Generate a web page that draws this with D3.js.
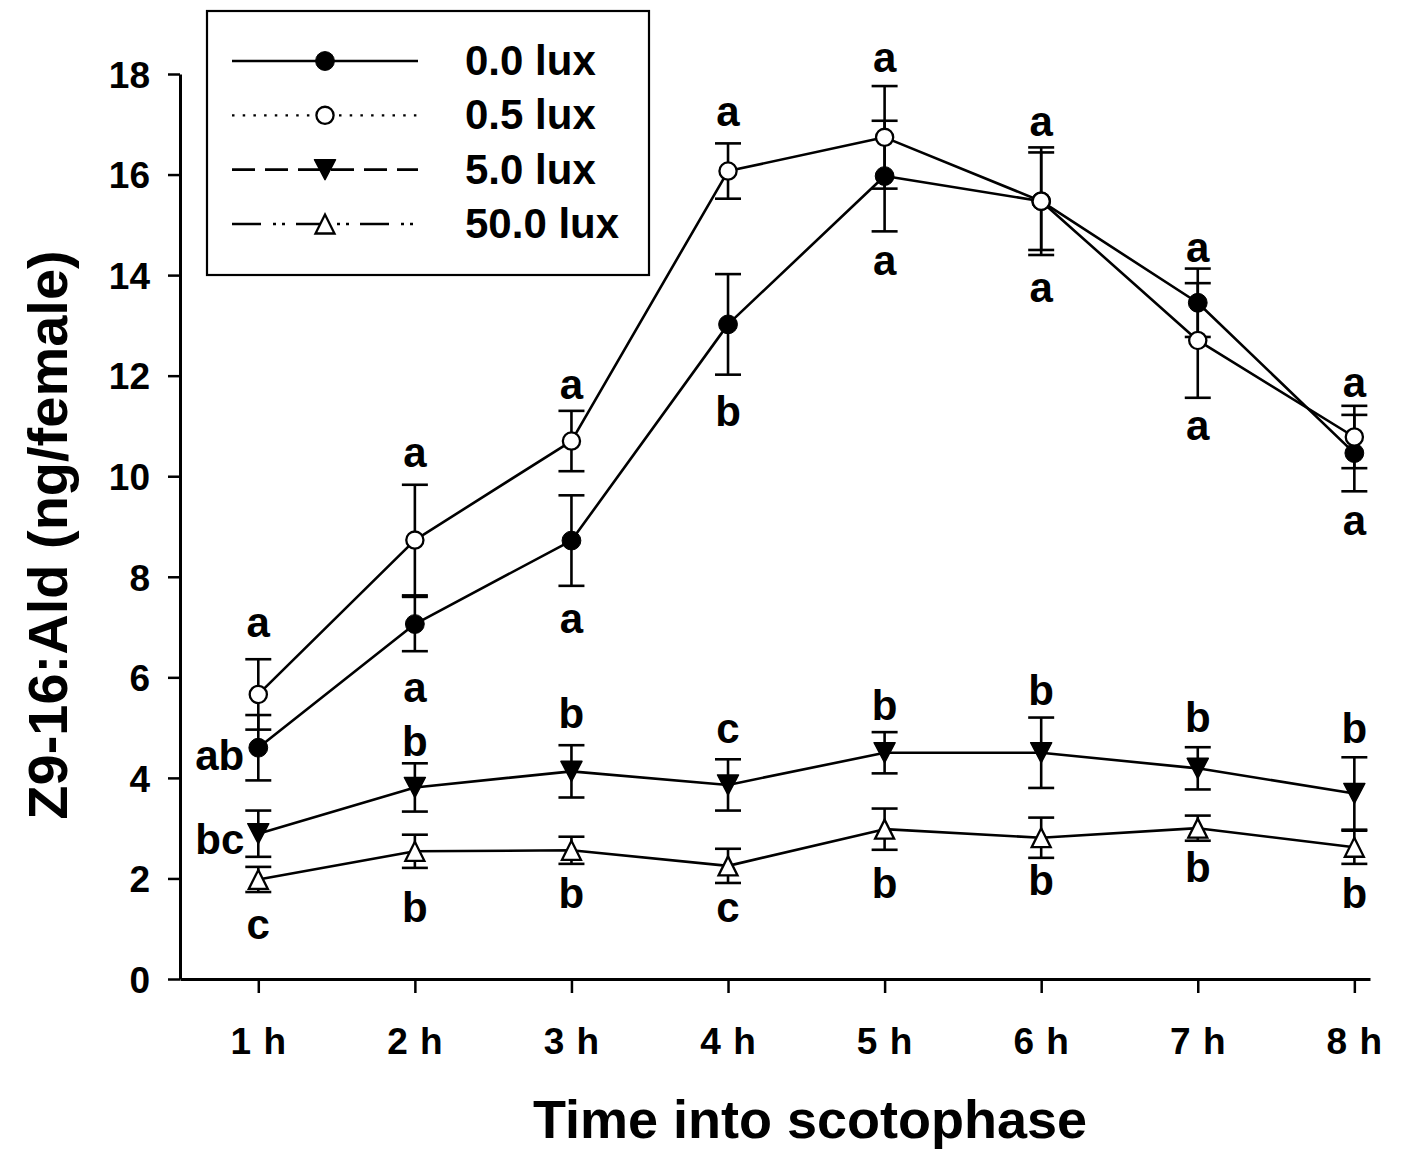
<!DOCTYPE html>
<html>
<head>
<meta charset="utf-8">
<script src="https://cdn.jsdelivr.net/npm/d3@7"></script>
<style>
  html, body { margin: 0; padding: 0; background: #fff; }
  svg text { font-family: Arial, "Liberation Sans", sans-serif; font-weight: bold; fill: #000; }
</style>
</head>
<body>
<div id="chart"></div>
<script>
// global constants
const WIDTH = 1406;
const HEIGHT = 1152;
const LINE_W = 2.6;
const AXIS_W = 3;
const CAP_HALF = 13;

// data
const hours = [1, 2, 3, 4, 5, 6, 7, 8];
const hourLabels = ["1 h", "2 h", "3 h", "4 h", "5 h", "6 h", "7 h", "8 h"];
const yTicks = [0, 2, 4, 6, 8, 10, 12, 14, 16, 18];

const lux00 = [4.6, 7.06, 8.72, 13.02, 15.97, 15.47, 13.45, 10.46];
const lux00Err = [0.65, 0.54, 0.9, 1.0, 1.1, 0.97, 0.68, 0.76];
const lux05 = [5.66, 8.73, 10.7, 16.07, 16.74, 15.47, 12.7, 10.78];
const lux05Err = [0.7, 1.1, 0.6, 0.55, 1.02, 1.07, 1.14, 0.62];
const lux5 = [2.89, 3.81, 4.13, 3.86, 4.5, 4.5, 4.19, 3.69];
const lux5Err = [0.46, 0.48, 0.52, 0.51, 0.41, 0.7, 0.42, 0.72];
const lux50 = [1.98, 2.54, 2.56, 2.25, 2.98, 2.81, 3.0, 2.62];
const lux50Err = [0.25, 0.33, 0.27, 0.34, 0.41, 0.4, 0.25, 0.33];

// significance letters and their baseline heights (data units)
const lux00Letters = ["ab", "a", "a", "b", "a", "a", "a", "a"];
const lux00LetterY = [4.16, 5.51, 6.89, 10.99, 14.01, 13.47, 10.73, 8.84];
const lux05Letters = ["a", "a", "a", "a", "a", "a", "a", "a"];
const lux05LetterY = [6.81, 10.19, 11.54, 16.96, 18.03, 16.76, 14.27, 11.58];
const lux5Letters = ["bc", "b", "b", "c", "b", "b", "b", "b"];
const lux5LetterY = [2.49, 4.44, 5.0, 4.7, 5.15, 5.45, 4.92, 4.7];
const lux50Letters = ["c", "b", "b", "c", "b", "b", "b", "b"];
const lux50LetterY = [0.8, 1.13, 1.41, 1.13, 1.61, 1.67, 1.93, 1.41];

const series = [
  { name: "0.0 lux", values: lux00, errors: lux00Err, letters: lux00Letters, letterY: lux00LetterY, marker: "circleFilled", dash: null },
  { name: "0.5 lux", values: lux05, errors: lux05Err, letters: lux05Letters, letterY: lux05LetterY, marker: "circleOpen", dash: "2.5,8.2" },
  { name: "5.0 lux", values: lux5, errors: lux5Err, letters: lux5Letters, letterY: lux5LetterY, marker: "triDownFilled", dash: "23,10" },
  { name: "50.0 lux", values: lux50, errors: lux50Err, letters: lux50Letters, letterY: lux50LetterY, marker: "triUpOpen", dash: "29,12,3,6,3,11" },
];

// scales
const x = d3.scaleLinear().domain([0.5, 8.1]).range([180, 1370]);
const y = d3.scaleLinear().domain([0, 18]).range([979, 74]);

const svg = d3.select("#chart")
  .append("svg")
  .attr("width", WIDTH)
  .attr("height", HEIGHT)
  .attr("viewBox", `0 0 ${WIDTH} ${HEIGHT}`);

function drawMarker(g, type, cx, cy) {
  if (type === "circleFilled") {
    g.append("circle").attr("cx", cx).attr("cy", cy).attr("r", 9.4)
      .attr("fill", "#000").attr("stroke", "#000").attr("stroke-width", 1);
  } else if (type === "circleOpen") {
    g.append("circle").attr("cx", cx).attr("cy", cy).attr("r", 8.6)
      .attr("fill", "#fff").attr("stroke", "#000").attr("stroke-width", 2.3);
  } else if (type === "triDownFilled") {
    const w = 10.5, h = 10;
    g.append("path")
      .attr("d", `M${cx - w},${cy - h}L${cx + w},${cy - h}L${cx},${cy + h}Z`)
      .attr("fill", "#000").attr("stroke", "#000").attr("stroke-width", 1.5)
      .attr("stroke-linejoin", "round");
  } else if (type === "triUpOpen") {
    const w = 9.5, h = 9.5;
    g.append("path")
      .attr("d", `M${cx - w},${cy + h}L${cx + w},${cy + h}L${cx},${cy - h}Z`)
      .attr("fill", "#fff").attr("stroke", "#000").attr("stroke-width", 2.3)
      .attr("stroke-linejoin", "miter");
  }
}

// Y axis
const yAxis = svg.append("g")
  .attr("transform", `translate(${x(0.5)},0)`)
  .call(d3.axisLeft(y).tickValues(yTicks).tickSize(12).tickSizeOuter(0).tickPadding(0));
yAxis.select(".domain").attr("stroke-width", AXIS_W);
yAxis.selectAll(".tick line").attr("stroke-width", 2.5);
yAxis.selectAll(".tick text")
  .attr("x", -30)
  .attr("dy", "0.36em")
  .style("font-size", "37px")
  .style("font-family", "Arial, 'Liberation Sans', sans-serif")
  .style("font-weight", "bold")
  .attr("fill", "#000");

// X axis
const xAxis = svg.append("g")
  .attr("transform", `translate(0,${y(0)})`)
  .call(d3.axisBottom(x).tickValues(hours).tickFormat((d, i) => hourLabels[i]).tickSize(14).tickSizeOuter(0).tickPadding(0));
xAxis.select(".domain").attr("stroke-width", AXIS_W);
xAxis.selectAll(".tick line").attr("stroke-width", 2.5);
xAxis.selectAll(".tick text")
  .attr("y", 75)
  .attr("dy", 0)
  .style("font-size", "37px")
  .style("letter-spacing", "1px")
  .style("font-family", "Arial, 'Liberation Sans', sans-serif")
  .style("font-weight", "bold")
  .attr("fill", "#000");

// axis titles
svg.append("text")
  .attr("x", 810)
  .attr("y", 1138)
  .attr("text-anchor", "middle")
  .style("font-size", "54px")
  .text("Time into scotophase");

svg.append("text")
  .attr("transform", `translate(67,535) rotate(-90)`)
  .attr("text-anchor", "middle")
  .style("font-size", "56px")
  .text("Z9-16:Ald (ng/female)");

// lines
const line = d3.line()
  .x((d, i) => x(hours[i]))
  .y((d) => y(d));

const plot = svg.append("g");
series.forEach((s) => {
  plot.append("path")
    .datum(s.values)
    .attr("d", line)
    .attr("fill", "none")
    .attr("stroke", "#000")
    .attr("stroke-width", LINE_W)
    .attr("stroke-linejoin", "round");
});

// error bars
series.forEach((s) => {
  s.values.forEach((v, i) => {
    const cx = x(hours[i]);
    const y1 = y(v + s.errors[i]);
    const y0 = y(v - s.errors[i]);
    const eb = plot.append("g").attr("stroke", "#000").attr("stroke-width", LINE_W);
    eb.append("line").attr("x1", cx).attr("x2", cx).attr("y1", y1).attr("y2", y0);
    eb.append("line").attr("x1", cx - CAP_HALF).attr("x2", cx + CAP_HALF).attr("y1", y1).attr("y2", y1);
    eb.append("line").attr("x1", cx - CAP_HALF).attr("x2", cx + CAP_HALF).attr("y1", y0).attr("y2", y0);
  });
});

// markers
series.forEach((s) => {
  s.values.forEach((v, i) => {
    drawMarker(plot, s.marker, x(hours[i]), y(v));
  });
});

// significance letters
series.forEach((s) => {
  s.letters.forEach((l, i) => {
    const side = l.length > 1 && i === 0;
    plot.append("text")
      .attr("x", side ? x(hours[i]) - 14 : x(hours[i]))
      .attr("y", y(s.letterY[i]))
      .attr("text-anchor", side ? "end" : "middle")
      .style("font-size", "42px")
      .text(l);
  });
});

// legend
const legend = svg.append("g");
legend.append("rect")
  .attr("x", 207).attr("y", 11)
  .attr("width", 442).attr("height", 264)
  .attr("fill", "#fff")
  .attr("stroke", "#000")
  .attr("stroke-width", 2.2);

const legendRowY = d3.scaleLinear().domain([0, 3]).range([61, 224]);
series.forEach((s, i) => {
  const ly = legendRowY(i);
  legend.append("line")
    .attr("x1", 232).attr("x2", 418)
    .attr("y1", ly).attr("y2", ly)
    .attr("stroke", "#000")
    .attr("stroke-width", s.dash && s.dash.startsWith("2.5") ? 2.4 : LINE_W)
    .attr("stroke-dasharray", s.dash);
  drawMarker(legend, s.marker, 325, ly);
  legend.append("text")
    .attr("x", 465)
    .attr("y", ly + 14)
    .style("font-size", "42px")
    .text(s.name);
});
</script>
</body>
</html>
